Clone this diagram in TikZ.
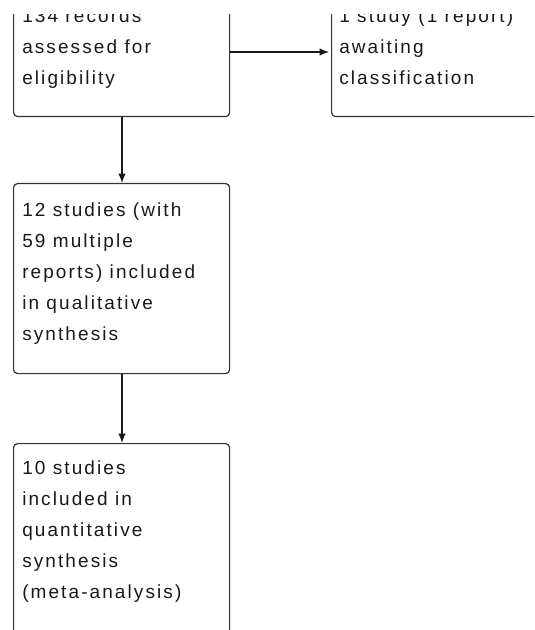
\documentclass[tikz,border=0pt]{standalone}
\usepackage{fontspec}
\newfontfamily\boxfont{Liberation Sans}[LetterSpace=11]
\usetikzlibrary{arrows.meta}
\begin{document}
\begin{tikzpicture}[x=0.75pt,y=-0.75pt,
  box/.style={draw=black!80, line width=0.9pt, rounded corners=3pt, rectangle, anchor=north west, inner sep=0pt, minimum width=162pt},
  txt/.style={anchor=north west, inner sep=0pt, align=left, text=black!90,
    font={\boxfont\fontsize{14.25pt}{23.25pt}\selectfont}},
  conn/.style={draw=black!90, line width=0.9pt, -{Latex[length=7pt,width=5.5pt]}}]
\useasboundingbox (0,0) rectangle (534,630);
\clip (0,15) rectangle (534,630);
\node[box, minimum height=94.5pt] (b1) at (13,-10) {};
\node[box, minimum width=179.25pt, minimum height=94.5pt] (b2) at (331,-10) {};
\node[box, minimum height=142.5pt] (b3) at (13,183) {};
\node[box, minimum height=162.75pt] (b4) at (13,443) {};
\node[txt] (t1) at (22,6) {\rule{0pt}{12pt}134 records\\assessed for\\eligibility};
\node[txt] (t2) at (339,6) {\rule{0pt}{12pt}1 study (1 report)\\awaiting\\classification};
\node[txt] (t3) at (22,200) {\rule{0pt}{12pt}12 studies (with\\59 multiple\\reports) included\\in qualitative\\synthesis};
\node[txt] (t4) at (22,458) {\rule{0pt}{12pt}10 studies\\included in\\quantitative\\synthesis\\(meta-analysis)};
\coordinate (b1s) at (122,116);
\draw[conn, shorten >=1.5pt] (b1.east |- 0,52) -- (b2.west |- 0,52);
\draw[conn] (b1.south -| b1s) -- (b3.north -| b1s);
\draw[conn] (b3.south -| b1s) -- (b4.north -| b1s);
\end{tikzpicture}
\end{document}
